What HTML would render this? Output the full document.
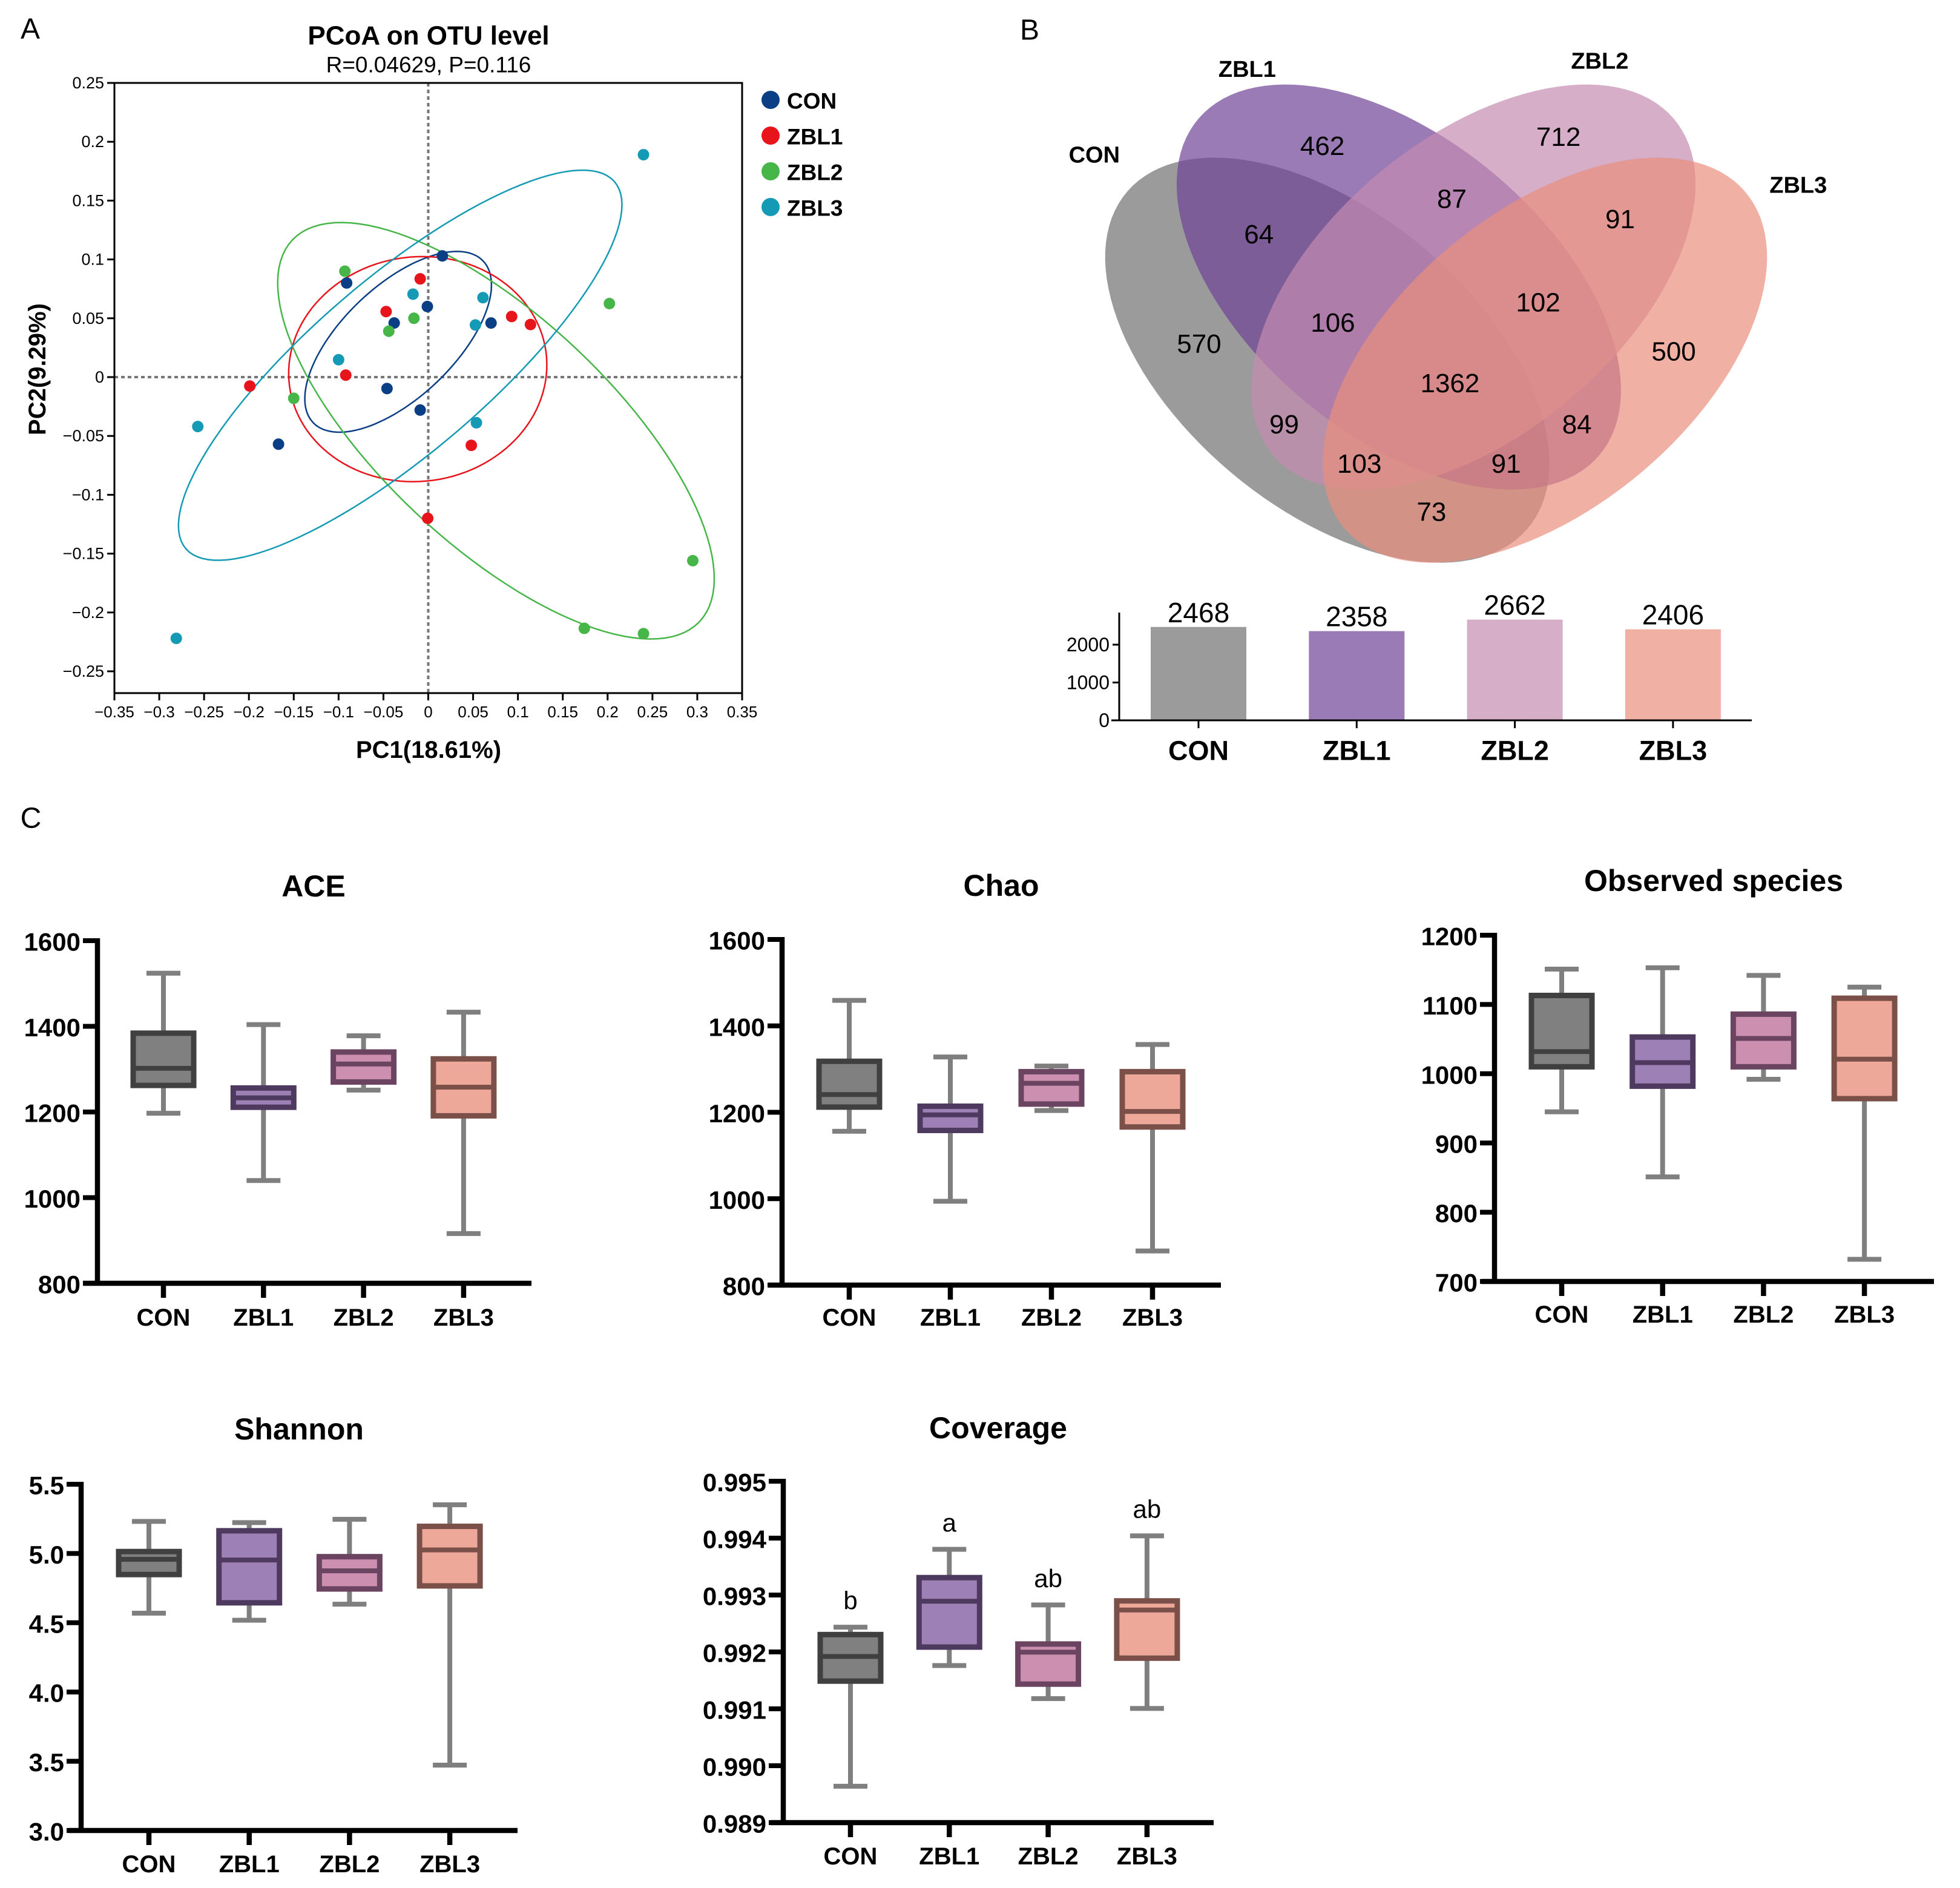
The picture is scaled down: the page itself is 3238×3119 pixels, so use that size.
<!DOCTYPE html>
<html><head><meta charset="utf-8"><style>
html,body{margin:0;padding:0;background:#fff;}
svg{display:block;font-family:"Liberation Sans",Arial,sans-serif;}
</style></head><body>
<svg id="fig" xmlns="http://www.w3.org/2000/svg" width="3238" height="3119" viewBox="0 0 3238 3119">
<rect x="0" y="0" width="3238" height="3119" fill="#fff"/>
</svg>
<script>
// ---------- PCoA data ----------
const groups = ["CON","ZBL1","ZBL2","ZBL3"];
const conPC1 = [0.0157,-0.091,-0.001,-0.038,0.070,-0.046,-0.009,-0.167];
const conPC2 = [0.103,0.080,0.060,0.046,0.046,-0.0097,-0.028,-0.057];
const zbl1PC1 = [-0.009,-0.047,0.093,0.114,-0.092,-0.199,0.048,-0.0006];
const zbl1PC2 = [0.0835,0.0557,0.0515,0.0447,0.0017,-0.0076,-0.058,-0.120];
const zbl2PC1 = [-0.093,-0.016,-0.044,-0.150,0.202,0.295,0.174,0.240];
const zbl2PC2 = [0.090,0.050,0.039,-0.018,0.0625,-0.156,-0.2135,-0.218];
const zbl3PC1 = [0.240,-0.017,0.061,0.0526,-0.100,-0.257,0.0537,-0.281];
const zbl3PC2 = [0.189,0.0705,0.0675,0.0443,0.0148,-0.042,-0.0388,-0.222];
const ellCenterPC1 = [-0.0336,-0.0117,0.0755,-0.0313];
const ellCenterPC2 = [0.0300,0.0068,-0.0456,0.0101];
const pcoaXTicks = [-0.35,-0.3,-0.25,-0.2,-0.15,-0.1,-0.05,0,0.05,0.1,0.15,0.2,0.25,0.3,0.35];
const pcoaXTickLabels = ["\u22120.35","\u22120.3","\u22120.25","\u22120.2","\u22120.15","\u22120.1","\u22120.05","0","0.05","0.1","0.15","0.2","0.25","0.3","0.35"];
const pcoaYTicks = [0.25,0.2,0.15,0.1,0.05,0,-0.05,-0.1,-0.15,-0.2,-0.25];
const pcoaYTickLabels = ["0.25","0.2","0.15","0.1","0.05","0","\u22120.05","\u22120.1","\u22120.15","\u22120.2","\u22120.25"];
// ---------- Venn data ----------
const vennCounts = [462,712,87,91,64,570,106,102,1362,500,99,84,103,91,73];
const setTotals = [2468,2358,2662,2406];
const barTicks = [0,1000,2000];
// ---------- Box plot data ----------
const aceMax=[1524,1404,1378,1433], aceQ3=[1384,1256,1340,1324], aceMed=[1302,1233,1312,1258], aceQ1=[1262,1211,1270,1191], aceMin=[1197,1040,1251,916];
const aceTicks=[800,1000,1200,1400,1600];
const chaoMax=[1459,1328,1307,1357], chaoQ3=[1318,1214,1294,1294], chaoMed=[1241,1194,1267,1202], chaoQ1=[1212,1158,1219,1166], chaoMin=[1156,994,1204,879];
const chaoTicks=[800,1000,1200,1400,1600];
const obsMax=[1151,1153,1142,1125], obsQ3=[1113,1053,1086,1109], obsMed=[1032,1016,1051,1021], obsQ1=[1010,982,1010,964], obsMin=[945,851,992,732];
const obsTicks=[700,800,900,1000,1100,1200];
const shanMax=[5.232,5.223,5.247,5.352], shanQ3=[5.014,5.164,4.977,5.196], shanMed=[4.958,4.953,4.875,5.026], shanQ1=[4.848,4.644,4.744,4.766], shanMin=[4.569,4.518,4.634,3.472];
const shanTicks=[3.0,3.5,4.0,4.5,5.0,5.5];
const covMax=[0.992435,0.993803,0.992826,0.99404], covQ3=[0.992305,0.993306,0.992139,0.992897], covMed=[0.99192,0.992891,0.991996,0.992737], covQ1=[0.991487,0.992085,0.991434,0.99189], covMin=[0.989639,0.99176,0.99118,0.991007];
const covTicks=[0.989,0.990,0.991,0.992,0.993,0.994,0.995];
const covLetters=["b","a","ab","ab"];

const NS="http://www.w3.org/2000/svg";
const svg=document.getElementById('fig');
function mk(tag,attrs,parent){const e=document.createElementNS(NS,tag);for(const k in attrs)e.setAttribute(k,attrs[k]);(parent||svg).appendChild(e);return e;}
function txt(x,y,s,size,weight,anchor,parent){const t=mk('text',{x:x,y:y,'font-size':size,'font-weight':weight,'text-anchor':anchor,'dominant-baseline':'central',fill:'#000'},parent);t.textContent=s;return t;}

// panel letters
let el;
el=txt(50,48,"A",48,"normal","middle");


el=txt(1701,50,"B",48,"normal","middle");


el=txt(51,1352,"C",48,"normal","middle");



// ================= PCoA =================
const PX=v=>189+(v+0.35)/0.7*1037;
const PY=v=>137+(0.25-v)/0.5*972;
const gA=mk('g',{});


el=txt(708,59,"PCoA on OTU level",44,"bold","middle",gA);


el=txt(708,107,"R=0.04629, P=0.116",37,"normal","middle",gA);


// reference lines
el=mk('line',{x1:PX(0),x2:PX(0),y1:137,y2:1145,stroke:'#777','stroke-width':4,'stroke-dasharray':'6,5'},gA);


el=mk('line',{x1:189,x2:1226,y1:PY(0),y2:PY(0),stroke:'#777','stroke-width':4,'stroke-dasharray':'6,5'},gA);


// frame
el=mk('rect',{x:189,y:137,width:1037,height:1008,fill:'none',stroke:'#000','stroke-width':3},gA);


pcoaXTicks.forEach((v,i)=>{
  const t=mk('line',{x1:PX(v),x2:PX(v),y1:1145,y2:1157,stroke:'#000','stroke-width':3},gA);
  
  
  const l=txt(PX(v),1176,pcoaXTickLabels[i],26,"normal","middle",gA);
  
  
});
pcoaYTicks.forEach((v,i)=>{
  const t=mk('line',{x1:177,x2:189,y1:PY(v),y2:PY(v),stroke:'#000','stroke-width':3},gA);
  
  
  const l=txt(172,PY(v),pcoaYTickLabels[i],27,"normal","end",gA);
  
  
});
el=txt(708,1239,"PC1(18.61%)",40,"bold","middle",gA);


el=txt(0,0,"PC2(9.29%)",40,"bold","middle",gA);
el.setAttribute('transform','translate(62,610) rotate(-90)');


const pColors=["#0b3f85","#e8141b","#46b648","#159ab5"];
// ellipse shapes (zoom-pixel semi-axes, rotation)
const ellA=[235,258,559,565], ellB=[112,226,230,175], ellT=[-44,-8,43.5,-40.9];
for(let g=0;g<4;g++){
  let d="";
  const th=ellT[g]*Math.PI/180;
  for(let k=0;k<=120;k++){
    const t=k/120*2*Math.PI;
    const zx=ellA[g]*Math.cos(t)*Math.cos(th)-ellB[g]*Math.sin(t)*Math.sin(th);
    const zy=ellA[g]*Math.cos(t)*Math.sin(th)+ellB[g]*Math.sin(t)*Math.cos(th);
    const vx=ellCenterPC1[g]+zx/89.4*0.05, vy=ellCenterPC2[g]-zy/118.5*0.05;
    d+=(k?"L":"M")+PX(vx).toFixed(1)+","+PY(vy).toFixed(1);
  }
  const e=mk('path',{d:d+"Z",fill:'none',stroke:pColors[g],'stroke-width':2.5},gA);
  
  
}
const pcX=[conPC1,zbl1PC1,zbl2PC1,zbl3PC1], pcY=[conPC2,zbl1PC2,zbl2PC2,zbl3PC2];
for(let g=0;g<4;g++){
  pcX[g].forEach((v,i)=>{
    const c=mk('circle',{cx:PX(v),cy:PY(pcY[g][i]),r:9.5,fill:pColors[g]},gA);
    
    
  });
  const m=mk('circle',{cx:1273,cy:165+g*59,r:15,fill:pColors[g]},gA);
  
  
  const l=txt(1300,167+g*59,groups[g],37,"bold","start",gA);
  
  
}

// ================= Venn =================
const VX=zx=>1650+zx/0.982, VY=zy=>zy/1.2;
const gB=mk('g',{});


const vennFill=["#707070","#6f4397","#c58bb1","#ea8f7d"];
const vcx=[533,649,770,886], vcy=[714,569,569,714], vth=[51,51,-51,-51];
for(let g=0;g<4;g++){
  let d="";const th=vth[g]*Math.PI/180;
  for(let k=0;k<=120;k++){
    const t=k/120*2*Math.PI;
    const zx=vcx[g]+470*Math.cos(t)*Math.cos(th)-265*Math.sin(t)*Math.sin(th);
    const zy=vcy[g]+470*Math.cos(t)*Math.sin(th)+265*Math.sin(t)*Math.cos(th);
    d+=(k?"L":"M")+VX(zx).toFixed(1)+","+VY(zy).toFixed(1);
  }
  const e=mk('path',{d:d+"Z",fill:vennFill[g],'fill-opacity':0.7},gB);
  
  
}
const vlx=[525,908,735,1008,422,325,542,875,732,1095,463,938,585,823,702];
const vly=[290,272,395,435,465,682,640,600,760,697,842,842,920,920,1015];
vennCounts.forEach((v,i)=>{
  const t=txt(VX(vlx[i]),VY(vly[i]),String(v),44,"normal","middle",gB);
  
  
});
const slx=[155,403,975,1297], sly=[308,138,122,368];
groups.forEach((s,i)=>{
  const t=txt(VX(slx[i]),VY(sly[i]),s,38,"bold","middle",gB);
  
  
});
// bar chart
const gBar=mk('g',{});


const BY=v=>1190-v/1000*62.5;
const barFill=["#9b9b9b","#9b7bb6","#d6aec8","#f0b0a4"];
const barCx=i=>1980+i*261.3;
setTotals.forEach((v,i)=>{
  const r=mk('rect',{x:barCx(i)-79,y:BY(v),width:158,height:1190-BY(v),fill:barFill[i]},gBar);
  
  
  const t=txt(barCx(i),BY(v)-24,String(v),46,"normal","middle",gBar);
  
  
  const tk=mk('line',{x1:barCx(i),x2:barCx(i),y1:1190,y2:1203,stroke:'#000','stroke-width':3},gBar);
  
  
  const c=txt(barCx(i),1240,groups[i],45,"bold","middle",gBar);
  
  
});
el=mk('line',{x1:1836,x2:2894,y1:1190,y2:1190,stroke:'#000','stroke-width':3},gBar);


el=mk('line',{x1:1849,x2:1849,y1:1012,y2:1190,stroke:'#000','stroke-width':3},gBar);


barTicks.forEach(v=>{
  const t=mk('line',{x1:1838,x2:1849,y1:BY(v),y2:BY(v),stroke:'#000','stroke-width':3},gBar);
  
  
  const l=txt(1833,BY(v),String(v),32,"normal","end",gBar);
  
  
});

// ================= Box plots =================
const boxFill=["#808080","#9d80b5","#cc8fb0","#eda89a"];
const boxStroke=["#404040","#4e3a5e","#6a4460","#7a5048"];
function boxPanel(cfg,mins,q1,med,q3,maxs,ticks,fmt,letters){
  const g=mk('g',{});
  
  
  const lo=ticks[0], hi=ticks[ticks.length-1];
  const Y=v=>cfg.bot-(v-lo)/(hi-lo)*(cfg.bot-cfg.top);
  const CX=i=>cfg.c0+i*cfg.step;
  let e=txt(cfg.tx,cfg.ty,cfg.title,50,"bold","middle",g);
  
  
  for(let i=0;i<4;i++){
    const x=CX(i);
    let w=mk('line',{x1:x,x2:x,y1:Y(maxs[i]),y2:Y(mins[i]),stroke:'#7f7f7f','stroke-width':8},g);
    
    
    let c1=mk('line',{x1:x-28,x2:x+28,y1:Y(maxs[i]),y2:Y(maxs[i]),stroke:'#7f7f7f','stroke-width':8},g);
    
    
    let c2=mk('line',{x1:x-28,x2:x+28,y1:Y(mins[i]),y2:Y(mins[i]),stroke:'#7f7f7f','stroke-width':8},g);
    
    
    let b=mk('rect',{x:x-50,y:Y(q3[i]),width:100,height:Y(q1[i])-Y(q3[i]),fill:boxFill[i],stroke:boxStroke[i],'stroke-width':9},g);
    
    
    let m=mk('line',{x1:x-54,x2:x+54,y1:Y(med[i]),y2:Y(med[i]),stroke:boxStroke[i],'stroke-width':8},g);
    
    
    let tk=mk('line',{x1:x,x2:x,y1:cfg.bot,y2:cfg.bot+24,stroke:'#000','stroke-width':8.5},g);
    
    
    let cl=txt(x,cfg.cly,groups[i],40,"bold","middle",g);
    
    
    if(letters){
      let lt=txt(x,Y(maxs[i])-44,letters[i],42,"normal","middle",g);
      
      
    }
  }
  e=mk('line',{x1:cfg.ax,x2:cfg.ax,y1:cfg.top-4,y2:cfg.bot+4,stroke:'#000','stroke-width':8.5},g);
  
  
  e=mk('line',{x1:cfg.x0,x2:cfg.x1,y1:cfg.bot,y2:cfg.bot,stroke:'#000','stroke-width':8.5},g);
  
  
  ticks.forEach(v=>{
    let t=mk('line',{x1:cfg.ax-24,x2:cfg.ax,y1:Y(v),y2:Y(v),stroke:'#000','stroke-width':8},g);
    
    
    let l=txt(cfg.ax-28,Y(v)+2,fmt(v),42,"bold","end",g);
    
    
  });
}
const f0=v=>String(v), f1=v=>v.toFixed(1), f3=v=>v.toFixed(3);
boxPanel({name:'ace',title:'ACE',tx:518,ty:1464,ax:161,x0:137,x1:878,top:1554,bot:2120,c0:270,step:165.3,cly:2177},aceMin,aceQ1,aceMed,aceQ3,aceMax,aceTicks,f0);
boxPanel({name:'chao',title:'Chao',tx:1654,ty:1463,ax:1292,x0:1269,x1:2017,top:1552,bot:2123,c0:1403,step:167,cly:2177},chaoMin,chaoQ1,chaoMed,chaoQ3,chaoMax,chaoTicks,f0);
boxPanel({name:'observed-species',title:'Observed species',tx:2831,ty:1455,ax:2469,x0:2448,x1:3195,top:1545,bot:2117,c0:2580,step:166.7,cly:2172},obsMin,obsQ1,obsMed,obsQ3,obsMax,obsTicks,f0);
boxPanel({name:'shannon',title:'Shannon',tx:494,ty:2361,ax:134,x0:113,x1:855,top:2452,bot:3024,c0:246,step:165.7,cly:3080},shanMin,shanQ1,shanMed,shanQ3,shanMax,shanTicks,f1);
boxPanel({name:'coverage',title:'Coverage',tx:1649,ty:2359,ax:1294,x0:1273,x1:2005,top:2447,bot:3011,c0:1405,step:163.3,cly:3067},covMin,covQ1,covMed,covQ3,covMax,covTicks,f3,covLetters);
</script>
</body></html>
